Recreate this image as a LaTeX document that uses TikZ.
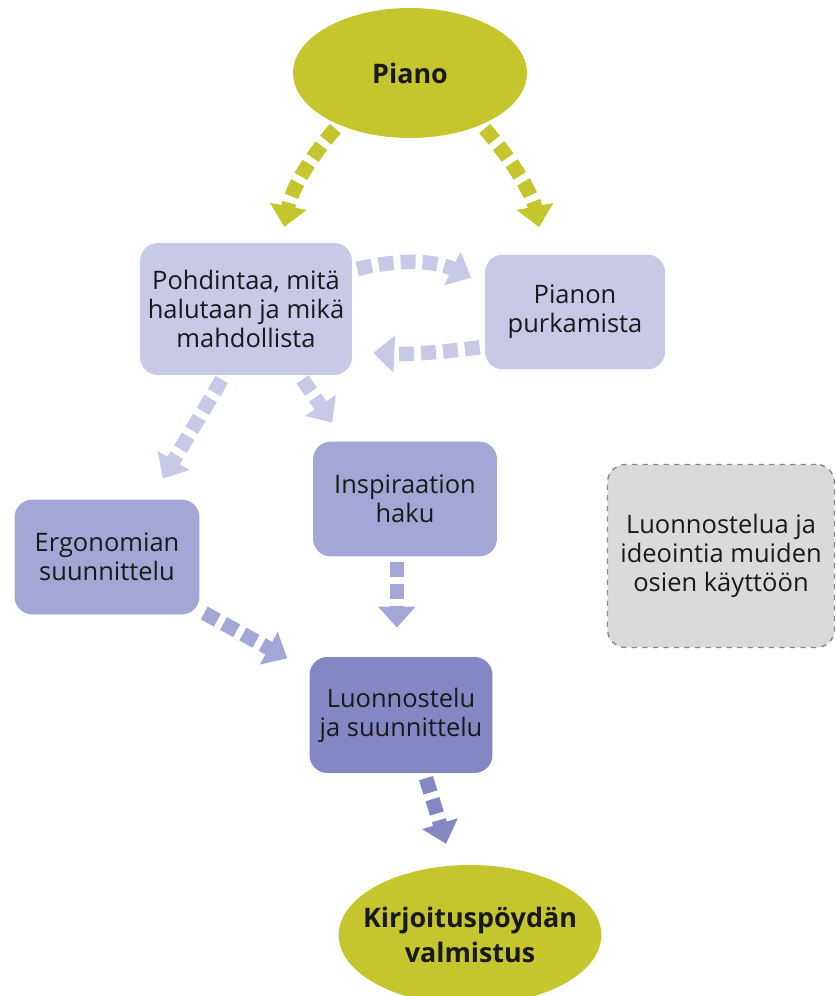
\documentclass[tikz,border=0pt]{standalone}
\usepackage{fontspec}
\setmainfont{Open Sans}
\usetikzlibrary{arrows.meta,shapes.geometric}

\definecolor{pianogreen}{RGB}{197,198,46}
\definecolor{palelav}{RGB}{199,201,231}
\definecolor{midlav}{RGB}{164,167,213}
\definecolor{deeplav}{RGB}{132,135,196}
\definecolor{notegrey}{RGB}{217,218,219}
\definecolor{noteedge}{RGB}{138,138,138}

\begin{document}
\begin{tikzpicture}[x=0.02cm,y=-0.02cm,
                    step box/.style={rounded corners=0.36cm,align=center,inner sep=0pt,
                                     text=black!90,font=\fontsize{14.5}{16.5}\selectfont},
                    end node/.style={ellipse,fill=pianogreen,inner sep=0pt,inner xsep=-8pt,
                                     align=center,text=black!90,
                                     font=\fontsize{15.3}{19.5}\selectfont\bfseries},
                    flow/.style={line width=0.29cm,dash pattern=on 0.3cm off 0.14cm,
                                 -{Triangle[width=0.72cm,length=0.42cm]},
                                 shorten <=0.1cm}]
  \useasboundingbox (0,0) rectangle (835,996);

  \node[end node,minimum width=4.68cm,minimum height=2.6cm] (piano) at (410,73) {Piano};
  \node[step box,fill=palelav,minimum width=4.24cm,minimum height=2.64cm] (pohd) at (246,309)
       {Pohdintaa, mitä\\halutaan ja mikä\\mahdollista};
  \node[step box,fill=palelav,minimum width=3.6cm,minimum height=2.3cm] (purk) at (575,312)
       {Pianon\\purkamista};
  \node[step box,fill=midlav,minimum width=3.68cm,minimum height=2.3cm] (insp) at (405,499)
       {Inspiraation\\haku};
  \node[step box,fill=midlav,minimum width=3.7cm,minimum height=2.3cm] (ergo) at (107,557)
       {Ergonomian\\suunnittelu};
  \node[step box,fill=deeplav,minimum width=3.66cm,minimum height=2.32cm] (luon) at (401,715)
       {Luonnostelu\\ja suunnittelu};
  \node[end node,minimum width=5.1cm,minimum height=2.8cm] (kirj) at (470,935)
       {Kirjoituspöydän\\valmistus};
  \node[step box,fill=notegrey,draw=noteedge,dashed,line width=0.8pt,
        minimum width=4.54cm,minimum height=3.66cm] (muut) at (721,556)
       {Luonnostelua ja\\ideointia muiden\\osien käyttöön};

  \path
    (piano.216) edge [flow,draw=pianogreen,bend right=15,shorten >=0.32cm] (pohd.62)
    (piano.324) edge [flow,draw=pianogreen,bend left=15,shorten >=0.55cm] (purk.118)
    (pohd.20)   edge [flow,draw=palelav,bend left=20,shorten >=0.3cm] (purk.163)
    (purk.201)  edge [flow,draw=palelav,bend left=5,shorten >=0.42cm] (pohd.338)
    (pohd.252)  edge [flow,draw=palelav,shorten >=0.48cm] (ergo.53)
    (pohd.309)  edge [flow,draw=palelav,shorten >=0.45cm] (insp.136)
    (ergo.-30)  edge [flow,draw=midlav,shorten >=0.5cm] (luon.154)
    (insp.262)  edge [flow,draw=midlav,shorten >=0.58cm] (insp.262 |- luon.north)
    (luon.292)  edge [flow,draw=deeplav,shorten >=0.45cm] (kirj.104)
    ;
\end{tikzpicture}
\end{document}
